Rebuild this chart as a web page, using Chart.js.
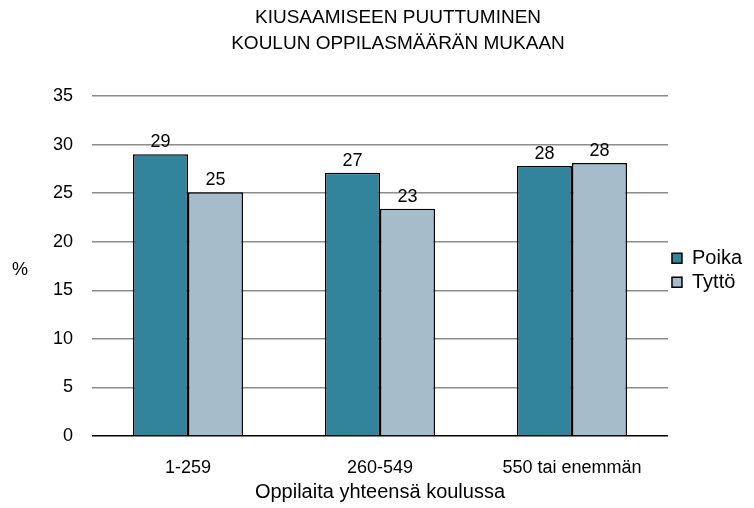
<!DOCTYPE html>
<html>
<head>
<meta charset="utf-8">
<script src="https://cdn.jsdelivr.net/npm/chart.js@4"></script>
<style>
  html, body { margin: 0; padding: 0; background: #fff; }
  #wrap { width: 754px; height: 508px; }
</style>
</head>
<body>
<div id="wrap"><canvas id="barChart" width="754" height="508"></canvas></div>
<script>
const categories = ['1-259', '260-549', '550 tai enemmän'];
const poika = [29.0, 27.1, 27.8];
const tytto = [25.1, 23.4, 28.1];
const titleLines = ['KIUSAAMISEEN PUUTTUMINEN', 'KOULUN OPPILASMÄÄRÄN MUKAAN'];
const yTitle = '%';
const xTitle = 'Oppilaita yhteensä koulussa';

const FONT = "'Liberation Sans', Arial, sans-serif";

// value labels above bars + title and % drawn as plain text
const extrasPlugin = {
  id: 'extras',
  afterDatasetsDraw(chart) {
    const ctx = chart.ctx;
    ctx.save();
    ctx.fillStyle = '#000';
    ctx.font = '18px ' + FONT;
    ctx.textAlign = 'center';
    ctx.textBaseline = 'bottom';
    chart.data.datasets.forEach((ds, i) => {
      chart.getDatasetMeta(i).data.forEach((bar, j) => {
        ctx.fillText(Math.round(ds.data[j]), bar.x, bar.y - 3);
      });
    });

    ctx.font = '19px ' + FONT;
    ctx.textBaseline = 'middle';
    ctx.fillText(titleLines[0], 398, 18);
    ctx.fillText(titleLines[1], 398, 44);

    ctx.font = '18px ' + FONT;
    ctx.fillText(yTitle, 20, 270);
    ctx.restore();
  }
};

new Chart(document.getElementById('barChart'), {
  type: 'bar',
  data: {
    labels: categories,
    datasets: [
      {
        label: 'Poika',
        data: poika,
        backgroundColor: '#31849b',
        borderColor: '#000',
        borderWidth: 1.5
      },
      {
        label: 'Tyttö',
        data: tytto,
        backgroundColor: '#a6bccb',
        borderColor: '#000',
        borderWidth: 1.5
      }
    ]
  },
  options: {
    responsive: false,
    animation: false,
    layout: { padding: { top: 96, left: 30, right: 2, bottom: 0 } },
    datasets: {
      bar: { barPercentage: 1.0, categoryPercentage: 0.573 }
    },
    plugins: {
      title: { display: false },
      tooltip: { enabled: false },
      legend: {
        position: 'right',
        fullSize: false,
        title: { display: true, text: '', font: { size: 7 }, padding: 0 },
        labels: {
          font: { family: FONT, size: 20 },
          color: '#000',
          boxWidth: 10,
          boxHeight: 10,
          padding: 4
        }
      }
    },
    scales: {
      x: {
        grid: { display: false },
        border: { display: false },
        ticks: {
          color: '#000',
          font: { family: FONT, size: 18 },
          padding: 13
        },
        title: {
          display: true,
          text: xTitle,
          color: '#000',
          font: { family: FONT, size: 20 },
          padding: { top: 2, bottom: 4 }
        },
        afterFit(scale) { scale.height = 72; }
      },
      y: {
        min: 0,
        max: 35,
        ticks: {
          stepSize: 5,
          color: '#000',
          font: { family: FONT, size: 18 },
          padding: 19
        },
        grid: {
          color: ctx => ctx.tick && ctx.tick.value === 0 ? '#000' : '#8c8c8c',
          lineWidth: 1.5,
          drawTicks: false
        },
        border: { display: false },
        afterFit(scale) { scale.width = 62; }
      }
    }
  },
  plugins: [extrasPlugin]
});
</script>
</body>
</html>
